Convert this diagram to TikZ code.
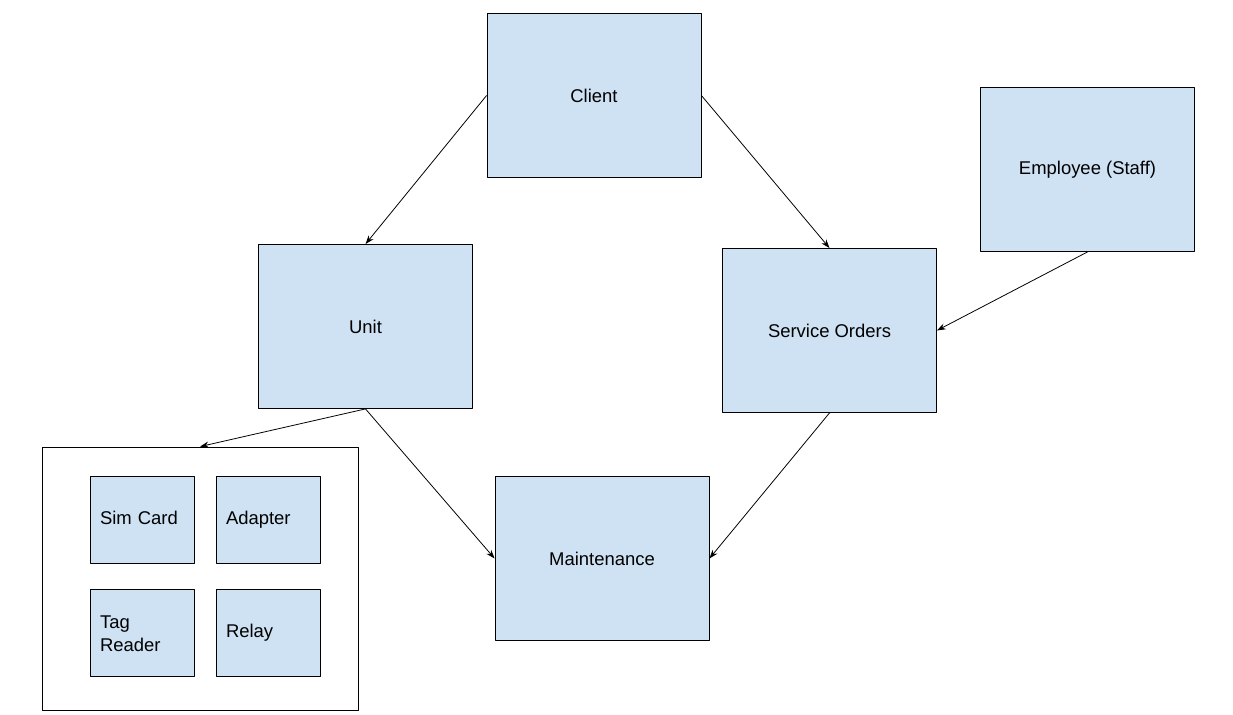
\documentclass[tikz,border=0pt]{standalone}
\usepackage{fontspec}
\setmainfont{Liberation Sans}
\usetikzlibrary{arrows.meta}
\definecolor{boxblue}{HTML}{CFE2F3}
\tikzset{
	bigbox/.style={draw=black, fill=boxblue, line width=0.5pt, minimum width=4.28cm, minimum height=3.28cm, inner sep=0pt},
	smallbox/.style={draw=black, fill=boxblue, line width=0.5pt, minimum width=2.08cm, minimum height=1.74cm, text width=1.68cm, inner xsep=0.2cm, inner ysep=0pt, align=left, execute at begin node=\strut},
	link/.style={->, line width=0.45pt}
}
\begin{document}
\begin{tikzpicture}[x=0.02cm, y=-0.02cm, font=\fontsize{10.5}{13}\selectfont, line join=round, >={Stealth[length=5pt,width=3.5pt]}]
	\useasboundingbox (0,0) rectangle (1233,715);
	\node[bigbox] (client) at (594,95.5) {Client};
	\node[bigbox] (staff) at (1087.5,169.5) {Employee (Staff)};
	\node[bigbox] (unit) at (365.5,326.5) {Unit};
	\node[bigbox] (orders) at (829.5,330.5) {Service Orders};
	\node[bigbox] (maint) at (602,558.5) {Maintenance};
	% parts of the unit
	\node[draw=black, line width=0.5pt, minimum width=6.32cm, minimum height=5.26cm, inner sep=0pt] (parts) at (200,578.5) {};
	\node[smallbox] (sim) at (142,519.5) {Sim Card};
	\node[smallbox] (adapter) at (268,519.5) {Adapter};
	\node[smallbox] (tag) at (142,632.5) {Tag\\Reader};
	\node[smallbox] (relay) at (268,632.5) {Relay};
	\draw[link] (client.west) -- (unit.north);
	\draw[link] (client.east) -- (orders.north);
	\draw[link] (staff.south) -- (orders.east);
	\draw[link] (unit.south) -- (parts.north);
	\draw[link] (unit.south) -- (maint.west);
	\draw[link] (orders.south) -- (maint.east);
\end{tikzpicture}
\end{document}
